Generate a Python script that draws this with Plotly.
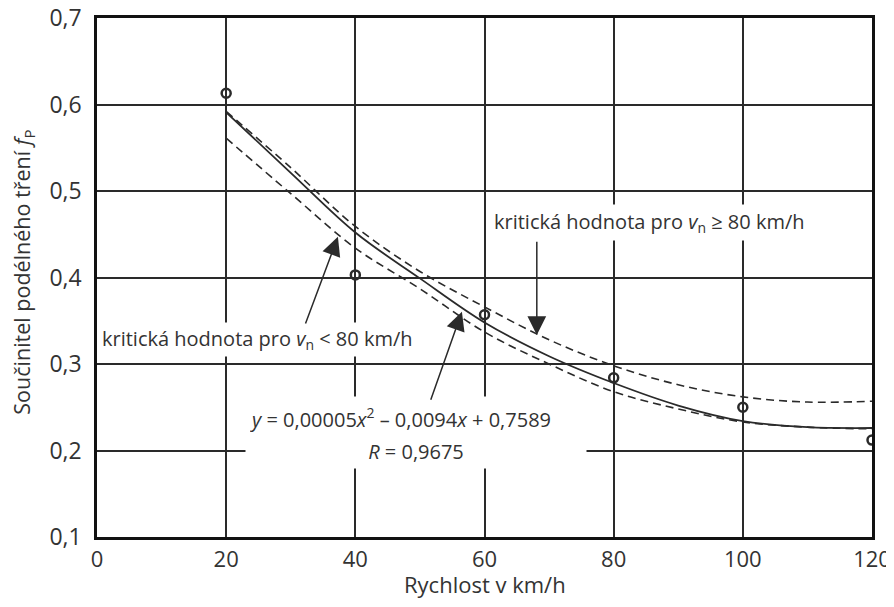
import plotly.graph_objects as go

# measured points
speed_points = [20, 40, 60, 80, 100, 120]
friction_points = [0.613, 0.403, 0.357, 0.284, 0.250, 0.212]

# curves
curve_x = [20, 30, 40, 50, 60, 70, 80, 90, 100, 110, 120]
fit_curve = [0.591, 0.521, 0.452, 0.399, 0.348, 0.309, 0.278, 0.252, 0.234, 0.227, 0.226]
upper_curve = [0.592, 0.527, 0.459, 0.407, 0.366, 0.328, 0.298, 0.276, 0.262, 0.256, 0.257]
lower_curve = [0.561, 0.497, 0.434, 0.387, 0.337, 0.300, 0.268, 0.248, 0.233, 0.227, 0.225]

x_tick_vals = [0, 20, 40, 60, 80, 100, 120]
x_tick_text = ["0", "20", "40", "60", "80", "100", "120"]
y_tick_vals = [0.1, 0.2, 0.3, 0.4, 0.5, 0.6, 0.7]
y_tick_text = ["0,1", "0,2", "0,3", "0,4", "0,5", "0,6", "0,7"]

INK = "#2a2a2a"
TXT = "#333333"
FONT = "Open Sans"

fig = go.Figure()
fig.add_trace(go.Scatter(x=curve_x, y=upper_curve, mode="lines",
                         line=dict(color=INK, width=1.6, dash="8px,5px", shape="spline", smoothing=1.0),
                         showlegend=False, hoverinfo="skip"))
fig.add_trace(go.Scatter(x=curve_x, y=lower_curve, mode="lines",
                         line=dict(color=INK, width=1.6, dash="8px,5px", shape="spline", smoothing=1.0),
                         showlegend=False, hoverinfo="skip"))
fig.add_trace(go.Scatter(x=curve_x, y=fit_curve, mode="lines",
                         line=dict(color=INK, width=1.8, shape="spline", smoothing=1.0),
                         showlegend=False, hoverinfo="skip"))
fig.add_trace(go.Scatter(x=speed_points, y=friction_points, mode="markers",
                         marker=dict(symbol="circle-open", size=9, color=INK, line=dict(width=2.5, color=INK)),
                         showlegend=False))

ann_font = dict(family=FONT, size=20, color=TXT)
annotations = [
    dict(x=60.85, y=0.464, xref="x", yref="y", xanchor="left", yanchor="middle",
         text="kritická hodnota pro <i>v</i><sub>n</sub> ≥ 80 km/h", showarrow=False,
         bgcolor="white", borderpad=3, font=ann_font),
    dict(x=0.3, y=0.328, xref="x", yref="y", xanchor="left", yanchor="middle",
         text="kritická hodnota pro <i>v</i><sub>n</sub> < 80 km/h", showarrow=False,
         bgcolor="white", borderpad=2, font=ann_font),
    dict(x=47.07, y=0.2376, xref="x", yref="y", xanchor="center", yanchor="middle",
         text="<i>y</i> = 0,00005<i>x</i><sup>2</sup> – 0,0094<i>x</i> + 0,7589", showarrow=False,
         bgcolor="white", height=40, font=ann_font),
    dict(x=49.4, y=0.2, xref="x", yref="y", xanchor="center", yanchor="middle",
         text="<i>R</i> = 0,9675", showarrow=False, width=338, height=32, align="center",
         bgcolor="white", font=ann_font),
    # arrows
    dict(x=68.1, y=0.3335, ax=68.1, ay=0.443, xref="x", yref="y", axref="x", ayref="y",
         text="", showarrow=True, arrowhead=2, arrowsize=2.5, arrowwidth=1.5, arrowcolor=INK, standoff=0),
    dict(x=37.3, y=0.447, ax=32.2, ay=0.345, xref="x", yref="y", axref="x", ayref="y",
         text="", showarrow=True, arrowhead=2, arrowsize=2.5, arrowwidth=1.5, arrowcolor=INK, standoff=0),
    dict(x=56.5, y=0.3605, ax=51.6, ay=0.257, xref="x", yref="y", axref="x", ayref="y",
         text="", showarrow=True, arrowhead=2, arrowsize=2.5, arrowwidth=1.5, arrowcolor=INK, standoff=0),
    # axis titles
    dict(x=-0.095, y=0.51, xref="paper", yref="paper", xanchor="center", yanchor="middle",
         textangle=-90, showarrow=False,
         text="Součinitel podélného tření <i>f</i><sub>P</sub>", font=dict(family=FONT, size=21.5, color=TXT)),
    dict(x=0.5, y=-0.091, xref="paper", yref="paper", xanchor="center", yanchor="middle", showarrow=False,
         text="Rychlost v km/h", font=dict(family=FONT, size=22, color=TXT)),
]

# the page body adds an 8px margin; figure is sized so the plot area lands at x 97-872, y 18-537
fig.update_layout(
    width=886, height=591,
    margin=dict(l=89, r=22, t=10, b=62, autoexpand=False),
    paper_bgcolor="white", plot_bgcolor="white",
    font=dict(family=FONT, color=TXT),
    annotations=annotations,
)
fig.update_xaxes(range=[0, 120], tickvals=x_tick_vals, ticktext=x_tick_text, automargin=False,
                 ticklabeloverflow="allow",
                 showgrid=True, gridcolor=INK, gridwidth=1.5,
                 showline=True, linecolor="#111", linewidth=2.5, mirror=True,
                 ticks="outside", ticklen=1, tickcolor="rgba(0,0,0,0)",
                 tickfont=dict(family=FONT, size=22, color=TXT), zeroline=False)
fig.update_yaxes(range=[0.1, 0.7], tickvals=y_tick_vals, ticktext=y_tick_text, automargin=False,
                 ticklabeloverflow="allow",
                 showgrid=True, gridcolor=INK, gridwidth=1.5,
                 showline=True, linecolor="#111", linewidth=2.5, mirror=True,
                 ticks="outside", ticklen=8, tickcolor="rgba(0,0,0,0)",
                 tickfont=dict(family=FONT, size=23, color=TXT), zeroline=False)

fig.write_html("out.html")
